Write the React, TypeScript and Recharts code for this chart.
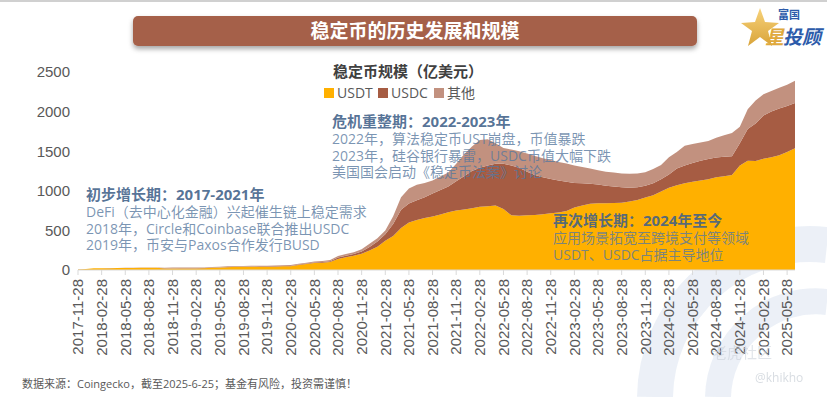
import React from 'react';
import { AreaChart, Area, XAxis, YAxis } from 'recharts';

const months: string[] = [
  '2017-11-28','2017-12-28',
  '2018-01-28','2018-02-28','2018-03-28','2018-04-28','2018-05-28','2018-06-28','2018-07-28','2018-08-28','2018-09-28','2018-10-28','2018-11-28','2018-12-28',
  '2019-01-28','2019-02-28','2019-03-28','2019-04-28','2019-05-28','2019-06-28','2019-07-28','2019-08-28','2019-09-28','2019-10-28','2019-11-28','2019-12-28',
  '2020-01-28','2020-02-28','2020-03-28','2020-04-28','2020-05-28','2020-06-28','2020-07-28','2020-08-28','2020-09-28','2020-10-28','2020-11-28','2020-12-28',
  '2021-01-28','2021-02-28','2021-03-28','2021-04-28','2021-05-28','2021-06-28','2021-07-28','2021-08-28','2021-09-28','2021-10-28','2021-11-28','2021-12-28',
  '2022-01-28','2022-02-28','2022-03-28','2022-04-28','2022-05-28','2022-06-28','2022-07-28','2022-08-28','2022-09-28','2022-10-28','2022-11-28','2022-12-28',
  '2023-01-28','2023-02-28','2023-03-28','2023-04-28','2023-05-28','2023-06-28','2023-07-28','2023-08-28','2023-09-28','2023-10-28','2023-11-28','2023-12-28',
  '2024-01-28','2024-02-28','2024-03-28','2024-04-28','2024-05-28','2024-06-28','2024-07-28','2024-08-28','2024-09-28','2024-10-28','2024-11-28','2024-12-28',
  '2025-01-28','2025-02-28','2025-03-28','2025-04-28','2025-05-28','2025-06-25',
];

const usdt: number[] = [
  7, 13,
  22, 22, 23, 24, 25, 25, 27, 28, 28, 20, 18, 19,
  20, 20, 21, 27, 30, 35, 40, 40, 41, 41, 41, 41,
  46, 47, 63, 75, 88, 92, 100, 140, 160, 180, 205, 245,
  295, 370, 430, 530, 600, 630, 655, 675, 700, 730, 750, 765,
  780, 800, 805, 815, 770, 690, 685, 690, 694, 705, 715, 725,
  745, 790, 815, 835, 842, 842, 845, 850, 865, 884, 915, 945,
  990, 1040, 1070, 1095, 1115, 1130, 1145, 1170, 1185, 1200, 1320, 1380,
  1375, 1405, 1425, 1450, 1490, 1536,
];

const usdc: number[] = [
  0, 0,
  0, 0, 0, 0, 0, 0, 0, 0, 0, 1, 2, 3,
  3, 3, 3, 3, 3, 4, 4, 4, 4, 5, 5, 5,
  5, 5, 6, 7, 8, 10, 12, 18, 20, 22, 30, 45,
  65, 80, 150, 230, 240, 250, 265, 290, 310, 325, 370, 420,
  470, 490, 515, 525, 570, 630, 605, 550, 506, 465, 435, 405,
  370, 310, 280, 255, 238, 223, 210, 195, 175, 160, 150, 150,
  155, 165, 210, 225, 235, 250, 255, 250, 245, 235, 280, 400,
  475, 545, 575, 590, 580, 574,
];

const other: number[] = [
  1, 1,
  1, 1, 2, 2, 3, 3, 3, 4, 5, 8, 10, 10,
  9, 8, 8, 8, 8, 8, 8, 8, 9, 9, 9, 10,
  10, 10, 10, 10, 10, 12, 15, 20, 22, 23, 27, 40,
  40, 50, 100, 160, 190, 195, 180, 165, 170, 175, 220, 275,
  310, 350, 330, 260, 200, 200, 210, 230, 240, 240, 240, 235,
  230, 220, 205, 190, 180, 175, 175, 175, 175, 175, 170, 180,
  180, 220, 210, 250, 240, 230, 230, 250, 270, 295, 210, 250,
  290, 270, 260, 260, 270, 280,
];

const seriesNames: string[] = ['USDT', 'USDC', '其他'];
const seriesColors: string[] = ['#FFB000', '#A65C43', '#C2917F'];
const yTicks: number[] = [0, 500, 1000, 1500, 2000, 2500];

const mainTitle = '稳定币的历史发展和规模';
const chartTitle = '稳定币规模（亿美元）';
const footer = '数据来源：Coingecko，截至2025-6-25；基金有风险，投资需谨慎！';

const notes = [
  {
    x: 86, y: 195,
    head: '初步增长期：2017-2021年',
    lines: ['DeFi（去中心化金融）兴起催生链上稳定需求', '2018年，Circle和Coinbase联合推出USDC', '2019年，币安与Paxos合作发行BUSD'],
  },
  {
    x: 332, y: 122,
    head: '危机重整期：2022-2023年',
    lines: ['2022年，算法稳定币UST崩盘，币值暴跌', '2023年，硅谷银行暴雷，USDC币值大幅下跌', '美国国会启动《稳定币法案》讨论'],
  },
  {
    x: 553, y: 221,
    head: '再次增长期：2024年至今',
    lines: ['应用场景拓宽至跨境支付等领域', 'USDT、USDC占据主导地位'],
  },
];

const data = months.map((m, i) => ({ date: m, usdt: usdt[i], usdc: usdc[i], other: other[i] }));
const keys = ['usdt', 'usdc', 'other'];

const CJK = "'Noto Sans CJK SC', sans-serif";
const MIX = "'Open Sans', 'Noto Sans CJK SC', sans-serif";
const NUM = "'Liberation Sans', Arial, sans-serif";

const XTick = (props: any) => {
  const { x, y, payload } = props;
  return (
    <g transform={`translate(${x},${y})`}>
      <text x={0} y={0} dy="0.35em" transform="rotate(-90)" textAnchor="end"
        fontSize={15} fill="#595959" fontFamily={NUM}>{payload.value}</text>
    </g>
  );
};

export default function App() {
  return (
    <div style={{ position: 'absolute', left: 0, top: 0, width: 827, height: 397, background: '#fff', overflow: 'hidden' }}>
      <svg width={827} height={397} style={{ position: 'absolute', left: 0, top: 0 }}>
        <g opacity={0.75}>
          <path d="M 655 397 A 155 155 0 0 1 827 245" fill="none" stroke="#E6ECF5" strokeWidth={36} />
          <path d="M 718 397 A 98 98 0 0 1 827 302" fill="none" stroke="#E6ECF5" strokeWidth={26} />
        </g>
      </svg>
      <div style={{ position: 'absolute', left: 0, top: 0 }}>
        <AreaChart width={827} height={397} data={data} margin={{ top: 72, right: 32, bottom: 47, left: 0 }}>
          <XAxis dataKey="date" interval={2} height={80} tick={<XTick />} tickSize={5} tickMargin={4}
            axisLine={{ stroke: '#D9D9D9' }} tickLine={{ stroke: '#D9D9D9' }} />
          <YAxis domain={[0, 2500]} ticks={yTicks} width={78} axisLine={false} tickLine={false}
            tick={{ fontSize: 15, fill: '#595959', fontFamily: NUM }} />
          {keys.map((k, i) => (
            <Area key={k} type="linear" dataKey={k} name={seriesNames[i]} stackId="1"
              stroke="none" fill={seriesColors[i]} fillOpacity={1} isAnimationActive={false} dot={false} activeDot={false} />
          ))}
        </AreaChart>
      </div>
      <svg width={827} height={397} style={{ position: 'absolute', left: 0, top: 0, pointerEvents: 'none' }}>
        <defs>
          <filter id="sh" x="-5%" y="-30%" width="110%" height="180%">
            <feDropShadow dx={0} dy={3} stdDeviation={2.5} floodColor="#000" floodOpacity={0.35} />
          </filter>
          <linearGradient id="gold" x1="0" y1="0" x2="0" y2="1">
            <stop offset="0" stopColor="#F7D27A" />
            <stop offset="1" stopColor="#D9A43A" />
          </linearGradient>
        </defs>
        <rect x={0} y={0} width={827} height={2} fill="#D0D0D0" />
        <rect x={133} y={16} width={564} height={30} rx={5} fill="#A5614A" filter="url(#sh)" />
        <text x={415} y={31} dy="0.36em" textAnchor="middle" fontSize={19} fontWeight={700} fill="#fff" fontFamily={CJK}>{mainTitle}</text>

        <polygon points="760,8 765,22 779,23 768,31 772,46 760,37 748,46 752,31 741,23 755,22" fill="url(#gold)" />
        <text x={778} y={19} fontSize={11} fontWeight={700} fill="#2C5BAA" fontFamily={CJK}>富国</text>
        <text x={765} y={44} fontSize={19} fontWeight={700} fill="#E0A93C" fontFamily={CJK} fontStyle="italic">星</text>
        <text x={783} y={44} fontSize={19} fontWeight={700} fill="#2C5BAA" fontFamily={CJK} fontStyle="italic">投顾</text>

        <text x={333} y={72} dy="0.36em" fontSize={15} fontWeight={700} fill="#404040" fontFamily={CJK}>{chartTitle}</text>
        {seriesNames.map((n, i) => {
          const xs = [324, 378, 434];
          return (
            <g key={n}>
              <rect x={xs[i]} y={88} width={10} height={10} fill={seriesColors[i]} />
              <text x={xs[i] + 13} y={93} dy="0.36em" fontSize={14} fill="#595959" fontFamily={MIX}>{n}</text>
            </g>
          );
        })}

        {notes.map((n, k) => (
          <text key={k} x={n.x} y={n.y} fontFamily={MIX}>
            <tspan x={n.x} y={n.y} dy="0.36em" fontSize={15} fontWeight={700} fill="#3F6189" fillOpacity={0.88}>{n.head}</tspan>
            {n.lines.map((l, j) => (
              <tspan key={j} x={n.x} y={n.y + 17 + j * 16.6} dy="0.36em" fontSize={14} fill="#57789E" fillOpacity={0.78}>{l}</tspan>
            ))}
          </text>
        ))}

        <text x={22} y={384} dy="0.36em" fontSize={11} fill="#595959" fontFamily={MIX}>{footer}</text>
        <g opacity={0.55}>
          <text x={712} y={353} dy="0.36em" fontSize={15} fill="#C8CFD8" fontFamily={CJK}>老虎社区</text>
          <text x={755} y={378} dy="0.36em" fontSize={12} fill="#B8C0CA" fontFamily={MIX}>@khikho</text>
        </g>
      </svg>
    </div>
  );
}
